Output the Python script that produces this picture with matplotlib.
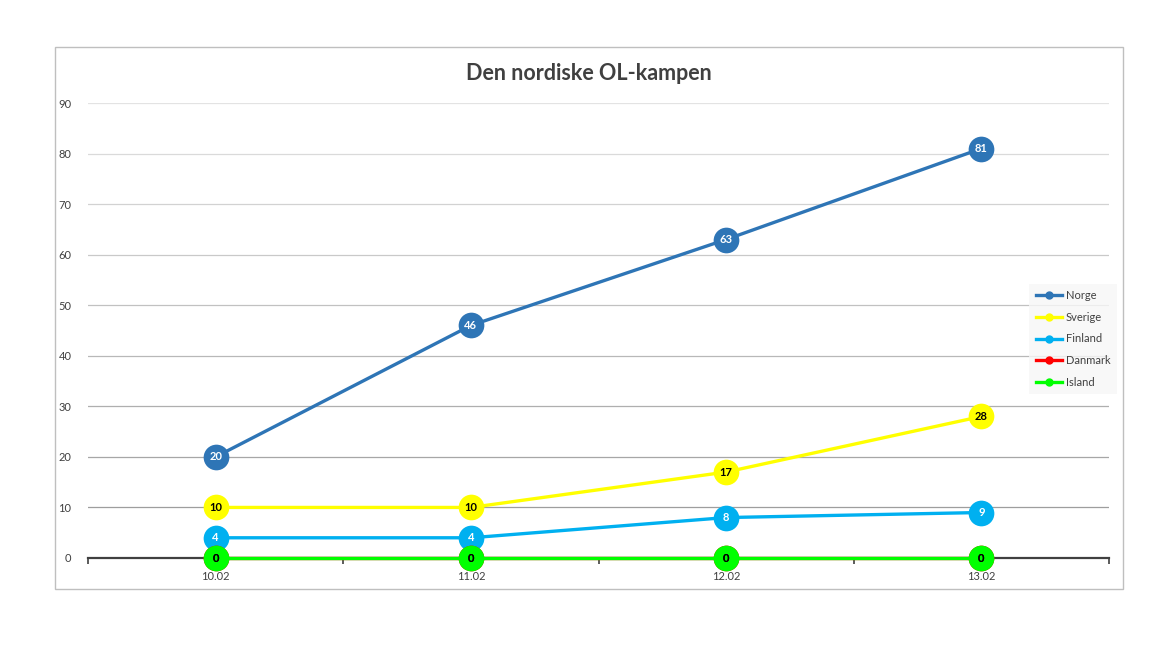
import numpy as np
import matplotlib.pyplot as plt
from matplotlib.lines import Line2D

plt.rcParams['font.family'] = ['Lato', 'DejaVu Sans']

dates = ['10.02', '11.02', '12.02', '13.02']
norge = [20, 46, 63, 81]
sverige = [10, 10, 17, 28]
finland = [4, 4, 8, 9]
danmark = [0, 0, 0, 0]
island = [0, 0, 0, 0]

series = [
    ('Norge', norge, '#2E75B6', 'white'),
    ('Sverige', sverige, '#FFFF00', 'black'),
    ('Finland', finland, '#00B0F0', 'white'),
    ('Danmark', danmark, '#FF0000', 'black'),
    ('Island', island, '#00FF00', 'black'),
]

fig = plt.figure(figsize=(11.52, 6.48), dpi=100)
# outer chart frame
fig.patches.append(plt.Rectangle((55 / 1152, 1 - 589 / 648), 1068 / 1152, 542 / 648,
                                 transform=fig.transFigure, fill=False,
                                 edgecolor='#bfbfbf', linewidth=1))
ax = fig.add_axes([88 / 1152, 1 - 558 / 648, 1021 / 1152, 455 / 648])

x = np.arange(len(dates)) + 0.5
ax.set_xlim(0, 4)
ax.set_ylim(0, 90)

# gridlines get darker towards the bottom
for i, v in enumerate(range(10, 100, 10)):
    shade = 0.62 + 0.27 * (i / 8)
    ax.axhline(v, color=(shade, shade, shade), linewidth=0.9, zorder=0)

for name, vals, col, txt in series:
    ax.plot(x, vals, color=col, linewidth=2.4, marker='o', markersize=18.5,
            markeredgewidth=0, label=name, zorder=3, clip_on=False)
    for xi, v in zip(x, vals):
        ax.text(xi, v, str(v), ha='center', va='center', fontsize=8,
                fontweight='bold', color=txt, zorder=4)

for s in ['top', 'right', 'left']:
    ax.spines[s].set_visible(False)
ax.spines['bottom'].set_color('#404040')
ax.spines['bottom'].set_linewidth(1.6)
ax.spines['bottom'].set_zorder(0.5)
ax.set_axisbelow(True)

ax.set_yticks(range(0, 100, 10))
ax.tick_params(axis='y', length=0, pad=12, labelsize=8, labelcolor='#404040')
ax.set_xticks([0, 1, 2, 3, 4])
ax.set_xticklabels([])
ax.set_xticks(x, minor=True)
ax.set_xticklabels(dates, minor=True)
ax.tick_params(axis='x', which='major', length=4, width=1.2, color='#404040', direction='out')
ax.tick_params(axis='x', which='minor', length=0, pad=9, labelsize=8, labelcolor='#404040')

fig.text(589 / 1152, 1 - 74 / 648, 'Den nordiske OL-kampen', ha='center', va='center',
         fontsize=15.5, fontweight='bold', color='#404040')

handles = [Line2D([0], [0], color=c, linewidth=2.4, marker='o', markersize=5)
           for _, _, c, _ in series]
leg = fig.legend(handles, [s[0] for s in series], loc='center',
                 bbox_to_anchor=(1073 / 1152, 1 - 339 / 648), fontsize=8,
                 frameon=True, fancybox=False, handlelength=2.4, handletextpad=0.3,
                 labelspacing=0.95, borderpad=0.6, labelcolor='#404040')
leg.get_frame().set_facecolor('#f7f7f7')
leg.get_frame().set_edgecolor('none')

fig.savefig('out.png', dpi=100)
